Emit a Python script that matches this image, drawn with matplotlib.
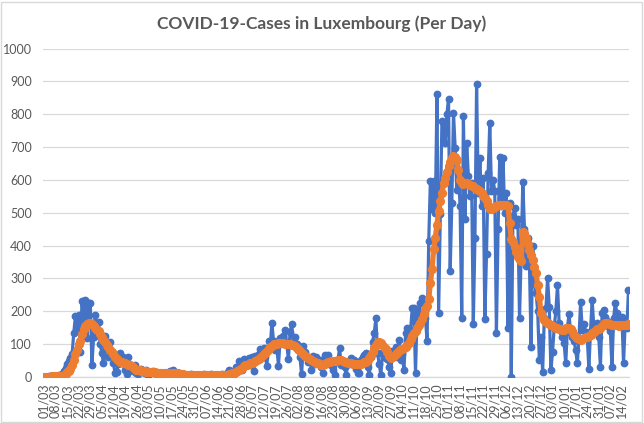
import datetime as dt
import matplotlib
matplotlib.use('Agg')
import matplotlib.pyplot as plt
import matplotlib.patches as patches

# --- DATA ---
START = dt.date(2020, 3, 1)

# daily new cases, one row per week (Sun..Sat)
daily_cases = [
    0, 0, 0, 1, 1, 2, 0,
    2, 3, 5, 4, 7, 17, 26,
    39, 48, 56, 69, 133, 184, 150,
    187, 75, 230, 170, 235, 117, 224,
    226, 36, 120, 189, 140, 168, 100,
    73, 41, 125, 90, 61, 107, 70,
    43, 10, 14, 40, 71, 55, 61,
    20, 7, 61, 30, 25, 18, 35,
    12, 8, 20, 25, 15, 10, 22,
    4, 12, 10, 18, 15, 8, 5,
    10, 3, 8, 12, 6, 10, 17,
    10, 22, 12, 8, 5, 3, 4,
    2, 6, 3, 5, 1, 8, 4,
    2, 6, 3, 5, 4, 1, 7,
    2, 3, 5, 8, 2, 4, 6,
    3, 1, 5, 9, 4, 6, 10,
    22, 12, 15, 8, 30, 25, 48,
    30, 20, 53, 40, 45, 58, 35,
    60, 17, 63, 55, 70, 84, 75,
    89, 60, 33, 109, 90, 165, 109,
    80, 90, 33, 119, 110, 124, 143,
    100, 53, 135, 160, 104, 120, 99,
    80, 60, 7, 94, 75, 60, 45,
    56, 20, 63, 40, 61, 45, 50,
    30, 10, 66, 55, 66, 40, 35,
    20, 5, 45, 50, 87, 36, 40,
    30, 5, 45, 40, 56, 48, 50,
    25, 10, 12, 50, 60, 66, 71,
    30, 5, 60, 107, 133, 178, 71,
    40, 5, 71, 60, 65, 55, 30,
    10, 77, 73, 92, 60, 112, 51,
    68, 20, 134, 150, 104, 141, 208,
    209, 12, 204, 190, 225, 240, 235,
    180, 109, 413, 596, 510, 596, 500,
    863, 195, 495, 779, 769, 711, 800,
    847, 322, 530, 805, 698, 570, 620,
    520, 180, 795, 480, 713, 612, 551,
    590, 160, 424, 891, 560, 667, 520,
    607, 175, 373, 622, 774, 566, 600,
    566, 134, 449, 670, 520, 667, 500,
    560, 150, 530, 0, 490, 515, 464,
    480, 178, 377, 595, 449, 337, 423,
    346, 92, 398, 296, 255, 200, 51,
    120, 15, 180, 210, 300, 213, 20,
    76, 150, 200, 279, 163, 140, 120,
    102, 41, 150, 190, 132, 120, 110,
    81, 41, 117, 229, 142, 160, 137,
    120, 25, 140, 234, 152, 140, 163,
    120, 30, 193, 203, 183, 170, 152,
    140, 30, 180, 224, 193, 160, 173,
    183, 41, 163, 150, 264,
]

# 7-day average as drawn (orange), same layout
weekly_avg = [
    0, 0, 0, 0, 0, 1, 1,
    1, 2, 2, 2, 3, 4, 8,
    13, 18, 25, 36, 50, 70, 82,
    100, 110, 130, 145, 155, 160, 163,
    165, 160, 155, 150, 143, 138, 130,
    120, 112, 105, 98, 90, 82, 75,
    68, 61, 55, 50, 46, 44, 42,
    41, 38, 36, 35, 32, 30, 25,
    22, 20, 19, 18, 17, 16, 15,
    15, 14, 14, 13, 13, 12, 12,
    12, 11, 11, 10, 10, 10, 10,
    11, 12, 12, 11, 10, 9, 8,
    7, 6, 5, 5, 4, 4, 4,
    4, 4, 4, 4, 4, 4, 4,
    4, 4, 4, 4, 5, 5, 5,
    5, 5, 5, 5, 5, 5, 6,
    8, 9, 11, 12, 15, 17, 20,
    25, 28, 32, 35, 37, 40, 42,
    43, 45, 47, 50, 53, 58, 63,
    68, 73, 78, 84, 91, 95, 99,
    100, 101, 102, 103, 104, 103, 101,
    101, 100, 99, 98, 96, 93, 89,
    84, 78, 72, 68, 64, 60, 56,
    53, 50, 47, 45, 43, 41, 39,
    37, 36, 38, 42, 45, 46, 47,
    48, 48, 49, 50, 51, 50, 48,
    46, 44, 42, 41, 41, 40, 40,
    39, 39, 39, 40, 42, 44, 46,
    50, 58, 66, 75, 88, 98, 105,
    107, 104, 98, 92, 85, 76, 62,
    56, 60, 62, 68, 72, 78, 83,
    86, 88, 92, 98, 104, 115, 125,
    133, 139, 150, 158, 165, 175, 190,
    205, 215, 236, 287, 327, 390, 424,
    464, 505, 535, 561, 590, 607, 625,
    642, 655, 668, 672, 670, 662, 630,
    601, 590, 588, 592, 591, 588, 585,
    582, 581, 576, 572, 568, 566, 560,
    552, 546, 535, 522, 512, 510, 515,
    518, 520, 522, 523, 525, 525, 524,
    522, 520, 470, 419, 411, 395, 381,
    365, 356, 353, 442, 439, 422, 405,
    386, 370, 356, 335, 315, 280, 244,
    193, 178, 172, 168, 165, 162, 158,
    155, 152, 150, 148, 147, 145, 143,
    142, 150, 150, 148, 145, 138, 127,
    120, 117, 115, 112, 115, 118, 120,
    122, 125, 128, 132, 135, 140, 145,
    147, 150, 155, 160, 163, 163, 162,
    160, 158, 158, 158, 157, 156, 157,
    158, 158, 158, 159, 160,
]

y_ticks = [0, 100, 200, 300, 400, 500, 600, 700, 800, 900, 1000]

dates = [START + dt.timedelta(days=i) for i in range(len(daily_cases))]
labels = [d.strftime('%d/%m') for d in dates]
x = list(range(len(daily_cases)))

# --- PLOT SETUP ---
plt.rcParams['font.family'] = ['Lato', 'DejaVu Sans']
TXT = '#595959'

fig = plt.figure(figsize=(6.44, 4.23), dpi=100)
ax = fig.add_axes([0.0671, 0.1094, 0.9101, 0.7755])

ax.plot(x, daily_cases, color='#4472C4', linewidth=2.3, marker='o',
        markersize=4.6, zorder=3)
ax.plot(x, weekly_avg, color='#ED7D31', linewidth=3.8, marker='o',
        markersize=5.6, zorder=4)

ax.set_xlim(-0.5, len(x) - 0.5)
ax.set_ylim(0, 1000)

# --- STYLING ---
ax.set_yticks(y_ticks)
ax.set_yticklabels([str(v) for v in y_ticks], color=TXT, fontsize=9)
ax.set_xticks(x[::7])
ax.set_xticklabels(labels[::7], rotation=90, color=TXT, fontsize=9)
ax.tick_params(axis='both', length=0)
ax.tick_params(axis='y', pad=8)
ax.tick_params(axis='x', pad=5)

ax.grid(axis='y', color='#D9D9D9', linewidth=0.9, zorder=0)
ax.set_axisbelow(True)
for name, spine in ax.spines.items():
    spine.set_visible(name == 'bottom')
ax.spines['bottom'].set_color('#D9D9D9')
ax.spines['bottom'].set_linewidth(0.9)

fig.text(0.5, 0.945, 'COVID-19-Cases in Luxembourg (Per Day)', ha='center',
         va='center', fontsize=12.5, fontweight='bold', color=TXT)

# chart area border like the Excel export
fig.patches.append(patches.Rectangle((0.002, 0.003), 0.995, 0.993,
                                     transform=fig.transFigure, fill=False,
                                     edgecolor='#D9D9D9', linewidth=1.0))

fig.savefig('out.png', dpi=100, facecolor='white')
